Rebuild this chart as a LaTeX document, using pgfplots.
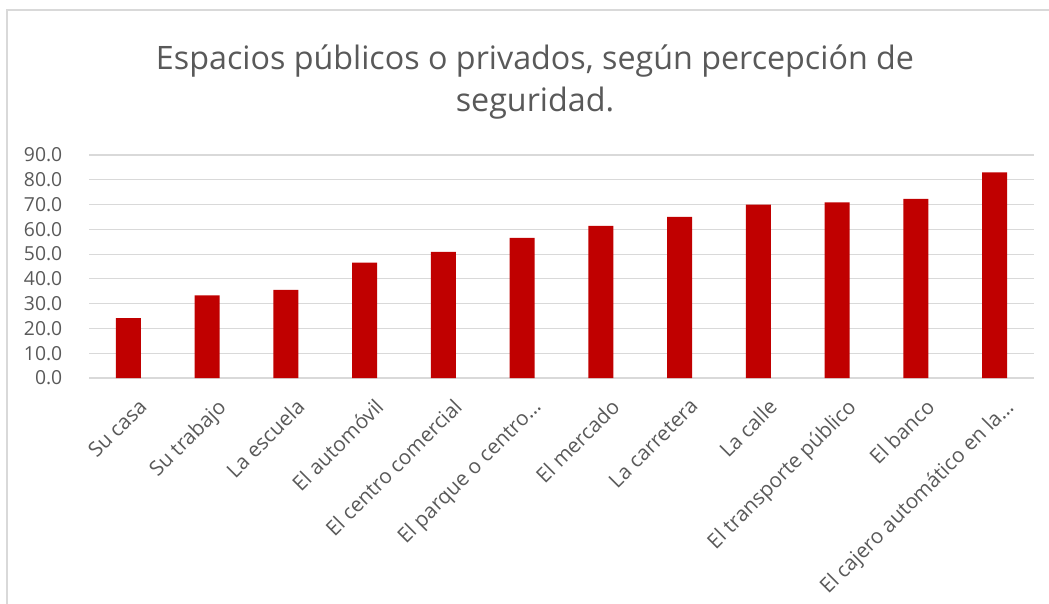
\documentclass[border=0pt]{standalone}
\usepackage{fontspec}
\setmainfont{Open Sans}
\usepackage{pgfplots}
\pgfplotsset{compat=1.18}
\definecolor{barred}{HTML}{C00000}
\definecolor{txt}{HTML}{595959}
\definecolor{gridc}{HTML}{D9D9D9}
\begin{document}
\begin{tikzpicture}[x=0.75pt,y=0.75pt]
\path[use as bounding box] (0,0) rectangle (1049,603);
\begin{scope}
\clip (0,0) rectangle (1049,603);
\draw[gridc, line width=1.2pt] (7,-20) rectangle (1070,593);
\end{scope}
\node[txt, font=\fontsize{24.2}{32}\selectfont, align=center] at (535,521) {Espacios públicos o privados, según percepción de\\seguridad.};
\begin{axis}[
  at={(66.75pt,168.75pt)}, anchor=south west,
  scale only axis, width=708.75pt, height=167.25pt,
  xmin=-0.5, xmax=11.5, ymin=0, ymax=90,
  ytick={0,10,...,90},
  xtick={0,...,11},
  xticklabels={{Su casa}, {Su trabajo}, {La escuela}, {El automóvil}, {El centro comercial}, {El parque o centro…}, {El mercado}, {La carretera}, {La calle}, {El transporte público}, {El banco}, {El cajero automático en la…}},
  axis line style={draw=none},
  major tick length=0pt,
  ymajorgrids, grid style={gridc, line width=0.9pt},
  yticklabel style={font=\fontsize{14.5}{18}\selectfont, text=txt, xshift=-16.5pt, /pgf/number format/.cd, fixed, fixed zerofill, precision=1, assume math mode=true},
  xticklabel style={font=\fontsize{15.5}{18}\selectfont, text=txt, rotate=45, anchor=north east, yshift=-11.5pt, xshift=-2pt},
  ybar, bar width=18.75pt,
]
\addplot[fill=barred, draw=none] coordinates {
(0,24.2) (1,33.3) (2,35.6) (3,46.6) (4,50.9) (5,56.6) (6,61.4) (7,65.0) (8,70.0) (9,70.9) (10,72.3) (11,83.0)
};
\end{axis}
\end{tikzpicture}
\end{document}
